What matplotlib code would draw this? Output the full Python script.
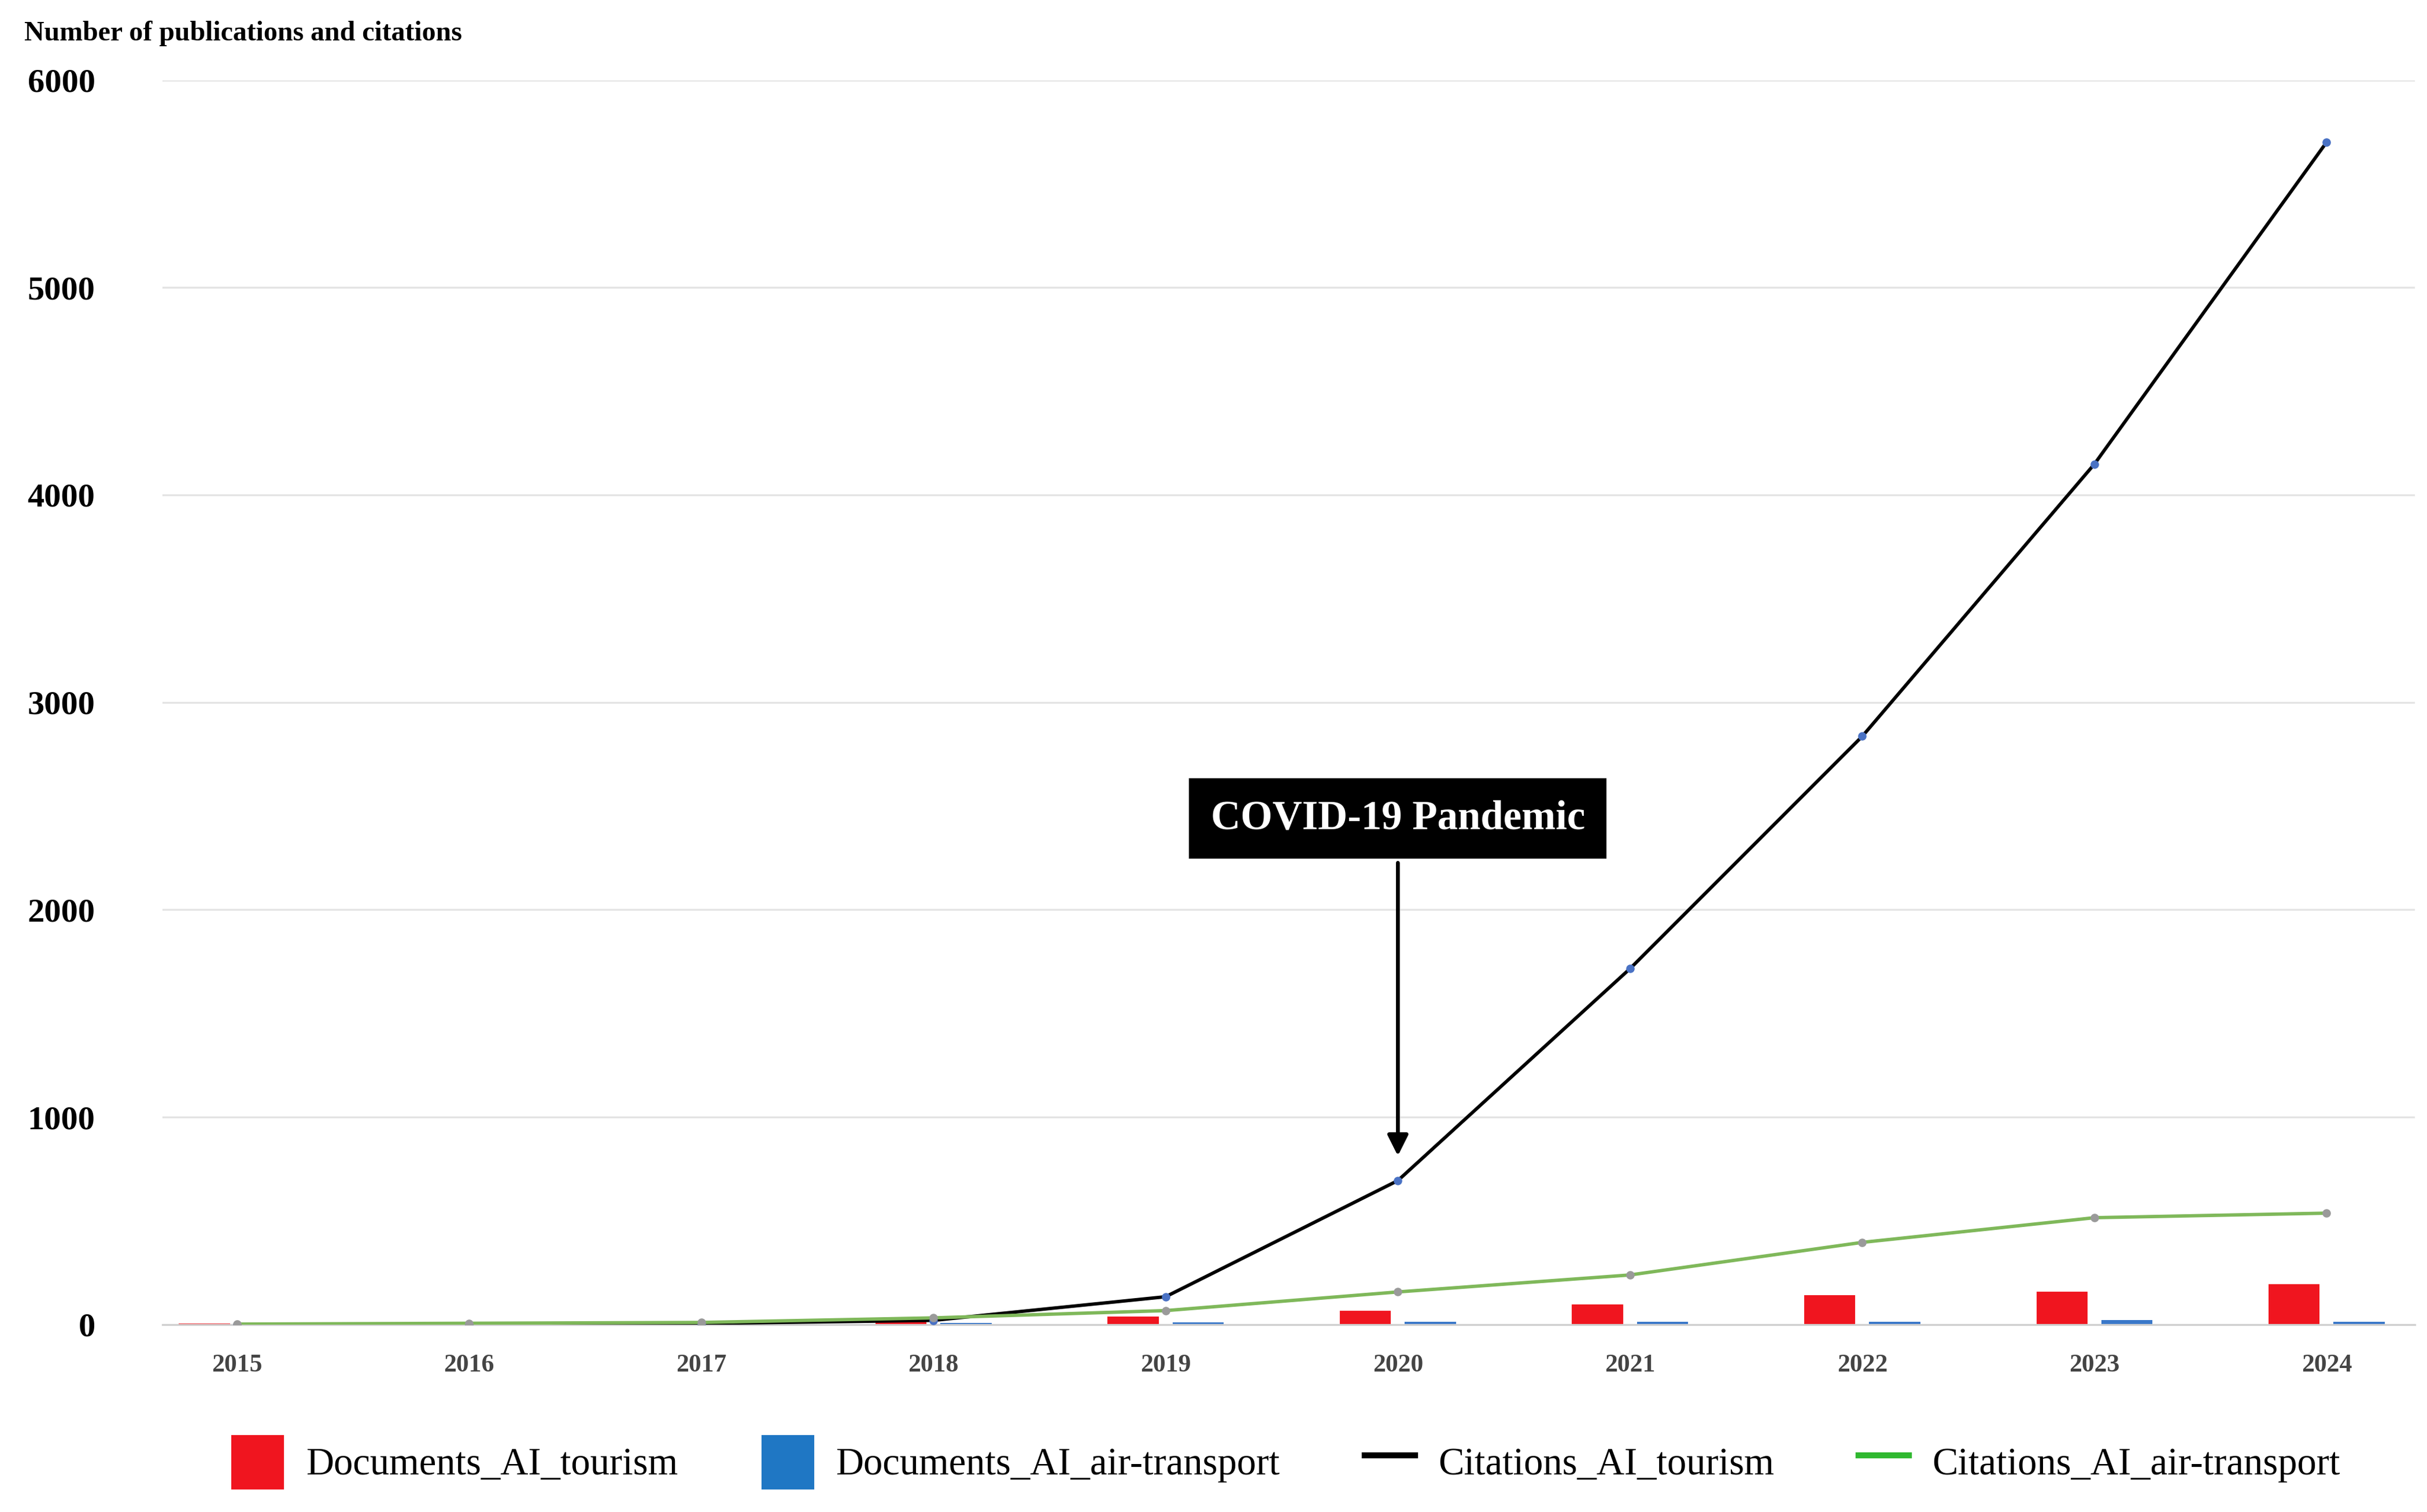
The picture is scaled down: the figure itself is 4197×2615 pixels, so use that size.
import numpy as np
import matplotlib.pyplot as plt
from matplotlib.patches import Patch
from matplotlib.lines import Line2D

years = [2015, 2016, 2017, 2018, 2019, 2020, 2021, 2022, 2023, 2024]
docs_tourism = [5, 0, 0, 12, 37, 67, 97, 142, 157, 194]
docs_air = [2, 2, 3, 8, 10, 14, 14, 14, 22, 14]
cit_tourism = [0, 0, 5, 20, 134, 694, 1716, 2836, 4149, 5701]
cit_air = [2, 6, 10, 32, 67, 157, 239, 396, 515, 537]

plt.rcParams['font.family'] = ['Liberation Serif', 'DejaVu Serif']

fig = plt.figure(figsize=(4197 / 300, 2615 / 300), dpi=300)
ax = fig.add_axes([0.067, 0.124, 0.928, 0.823])

x = np.array(years)
w = 0.22
ax.bar(x - 0.14, docs_tourism, width=w, color="#f0151f", zorder=2)
ax.bar(x + 0.14, docs_air, width=w, color="#3a78c9", zorder=2)
ax.plot(x, cit_tourism, color="black", lw=1.4, marker="o", ms=2.5,
        mfc="#4a72c4", mec="#4a72c4", zorder=3)
ax.plot(x, cit_air, color="#7fb85a", lw=1.4, marker="o", ms=2.5,
        mfc="#9a9a9a", mec="#9a9a9a", zorder=3)

ax.set_xlim(2015 - 0.32, 2024 + 0.38)
ax.set_ylim(0, 6000)
ax.set_yticks(range(0, 6001, 1000))
ax.set_xticks(years)
ax.grid(axis="y", color="#e4e4e4", lw=0.8, zorder=0)
for s in ["left", "right", "top"]:
    ax.spines[s].set_visible(False)
ax.spines["bottom"].set_color("#d0d0d0")
ax.tick_params(axis="y", length=0, labelsize=14, pad=28)
ax.tick_params(axis="x", length=0, labelsize=10.5, pad=12, labelcolor="#444444")
for lab in ax.get_yticklabels() + ax.get_xticklabels():
    lab.set_fontweight("bold")

fig.text(0.01, 0.978, "Number of publications and citations", fontsize=11.5,
         fontweight="bold", va="center")

ax.annotate("COVID-19 Pandemic", xy=(2020, 790), xytext=(2020, 2440),
            ha="center", va="center", fontsize=17, fontweight="bold", color="white",
            bbox=dict(boxstyle="square,pad=0.5", fc="black", ec="black"),
            arrowprops=dict(arrowstyle="-|>", color="black", lw=1.6, mutation_scale=18))

handles = [Patch(color="#f0151f"), Patch(color="#1f77c4"),
           Line2D([], [], color="black", lw=2.5), Line2D([], [], color="#2fb82f", lw=2.5)]
labels = ["Documents_AI_tourism", "Documents_AI_air-transport",
          "Citations_AI_tourism", "Citations_AI_air-transport"]
fig.legend(handles, labels, loc="center", bbox_to_anchor=(0.53, 0.033), ncol=4,
           frameon=False, fontsize=16, handlelength=1.3, handleheight=1.7,
           columnspacing=2.2, handletextpad=0.6)

fig.savefig("out.png", dpi=300)
